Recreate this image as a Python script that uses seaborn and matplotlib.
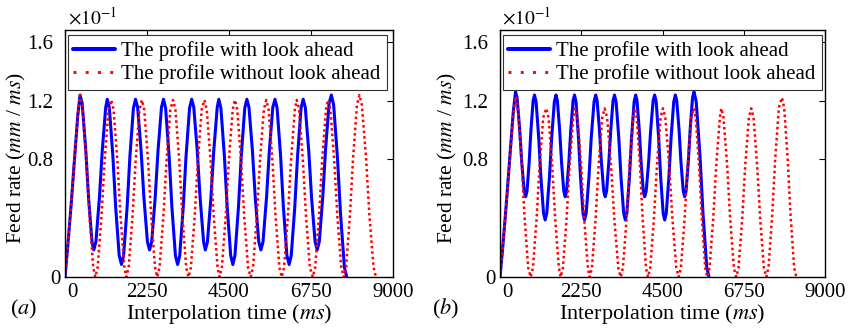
import matplotlib
matplotlib.use("Agg")
import matplotlib.pyplot as plt
import matplotlib.transforms as mtrans
from matplotlib.lines import Line2D
import pandas as pd
import seaborn as sns

# ---------------- data ----------------
x_ticks = [0, 2250, 4500, 6750, 9000]
y_ticks = [0, 0.8, 1.2, 1.6]
y_tick_labels = ["0", "0.8", "1.2", "1.6"]
series_labels = ["The profile with look ahead", "The profile without look ahead"]

# panel (a) - with look ahead
t_a_with = [0, 62, 165, 248, 351, 413,
            471, 567, 644, 740, 790, 848, 944, 1021, 1117, 1160,
            1218, 1314, 1391, 1487, 1550, 1608, 1704, 1781, 1877, 1935,
            1993, 2089, 2166, 2262, 2320, 2378, 2474, 2551, 2647, 2703,
            2761, 2857, 2934, 3030, 3090, 3148, 3244, 3321, 3417, 3476,
            3534, 3630, 3707, 3803, 3850, 3908, 4004, 4081, 4177, 4220,
            4278, 4374, 4451, 4547, 4605, 4663, 4759, 4836, 4932, 4990,
            5048, 5144, 5221, 5317, 5375, 5433, 5529, 5606, 5702, 5762,
            5820, 5916, 5993, 6089, 6150, 6208, 6304, 6381, 6477, 6535,
            6593, 6689, 6766, 6862, 6920, 6978, 7074, 7151, 7247, 7308,
            7371, 7476, 7561, 7666, 7729]
v_a_with = [0, 0.17, 0.48, 0.76, 1.10, 1.238,
            1.181, 0.874, 0.548, 0.241, 0.184, 0.239, 0.538, 0.855, 1.154, 1.209,
            1.148, 0.821, 0.473, 0.146, 0.085, 0.146, 0.473, 0.821, 1.148, 1.209,
            1.154, 0.855, 0.538, 0.239, 0.184, 0.239, 0.538, 0.855, 1.154, 1.209,
            1.148, 0.821, 0.473, 0.146, 0.085, 0.146, 0.473, 0.821, 1.148, 1.209,
            1.154, 0.855, 0.538, 0.239, 0.184, 0.239, 0.538, 0.855, 1.154, 1.209,
            1.148, 0.821, 0.473, 0.146, 0.085, 0.146, 0.473, 0.821, 1.148, 1.209,
            1.154, 0.855, 0.538, 0.239, 0.184, 0.239, 0.538, 0.855, 1.154, 1.209,
            1.148, 0.821, 0.473, 0.146, 0.085, 0.146, 0.473, 0.821, 1.148, 1.209,
            1.154, 0.855, 0.538, 0.239, 0.184, 0.241, 0.548, 0.874, 1.181, 1.238,
            1.171, 0.811, 0.427, 0.067, 0]

# panel (a) - without look ahead
t_a_without = [0, 62, 165, 248, 351, 413,
               477, 583, 668, 774, 832, 896, 1002, 1087, 1193, 1268,
               1332, 1438, 1523, 1629, 1683, 1747, 1853, 1938, 2044, 2110,
               2174, 2280, 2365, 2471, 2530, 2594, 2700, 2785, 2891, 2965,
               3029, 3135, 3220, 3326, 3390, 3454, 3560, 3645, 3751, 3825,
               3889, 3995, 4080, 4186, 4240, 4304, 4410, 4495, 4601, 4662,
               4726, 4832, 4917, 5023, 5095, 5159, 5265, 5350, 5456, 5522,
               5586, 5692, 5777, 5883, 5946, 6010, 6116, 6201, 6307, 6358,
               6422, 6528, 6613, 6719, 6800, 6864, 6970, 7055, 7161, 7218,
               7282, 7388, 7473, 7579, 7650, 7714, 7820, 7905, 8011, 8078,
               8145, 8260, 8351, 8465, 8533]
v_a_without = [0, 0.17, 0.48, 0.76, 1.10, 1.238,
               1.171, 0.811, 0.427, 0.067, 0, 0.065, 0.415, 0.789, 1.139, 1.204,
               1.139, 0.789, 0.415, 0.065, 0, 0.065, 0.415, 0.789, 1.139, 1.204,
               1.139, 0.789, 0.415, 0.065, 0, 0.065, 0.415, 0.789, 1.139, 1.204,
               1.139, 0.789, 0.415, 0.065, 0, 0.065, 0.415, 0.789, 1.139, 1.204,
               1.139, 0.789, 0.415, 0.065, 0, 0.065, 0.415, 0.789, 1.139, 1.204,
               1.139, 0.789, 0.415, 0.065, 0, 0.065, 0.415, 0.789, 1.139, 1.204,
               1.139, 0.789, 0.415, 0.065, 0, 0.065, 0.415, 0.789, 1.139, 1.204,
               1.139, 0.789, 0.415, 0.065, 0, 0.065, 0.415, 0.789, 1.139, 1.204,
               1.139, 0.789, 0.415, 0.065, 0, 0.067, 0.427, 0.811, 1.171, 1.238,
               1.171, 0.811, 0.427, 0.067, 0]

# panel (b) - with look ahead
t_b_with = [0, 65, 172, 258, 366, 430,
            472, 542, 599, 669, 711, 748, 809, 857, 918, 955,
            999, 1073, 1132, 1206, 1250, 1295, 1370, 1430, 1505, 1550,
            1588, 1652, 1703, 1767, 1805, 1844, 1908, 1960, 2024, 2063,
            2105, 2174, 2229, 2298, 2340, 2387, 2464, 2526, 2604, 2650,
            2689, 2755, 2807, 2873, 2912, 2951, 3015, 3067, 3131, 3170,
            3215, 3290, 3350, 3425, 3470, 3513, 3585, 3642, 3714, 3757,
            3794, 3857, 3906, 3969, 4006, 4048, 4117, 4172, 4241, 4283,
            4325, 4394, 4449, 4518, 4560, 4604, 4678, 4737, 4811, 4855,
            4894, 4959, 5010, 5075, 5114, 5153, 5217, 5269, 5333, 5372,
            5434, 5538, 5621, 5725, 5787]
v_b_with = [0, 0.17, 0.49, 0.77, 1.12, 1.26,
            1.221, 1.014, 0.792, 0.585, 0.546, 0.583, 0.785, 0.999, 1.201, 1.238,
            1.192, 0.945, 0.681, 0.434, 0.388, 0.434, 0.681, 0.945, 1.192, 1.238,
            1.201, 0.999, 0.785, 0.583, 0.546, 0.583, 0.785, 0.999, 1.201, 1.238,
            1.192, 0.945, 0.681, 0.434, 0.388, 0.434, 0.681, 0.945, 1.192, 1.238,
            1.201, 0.999, 0.785, 0.583, 0.546, 0.583, 0.785, 0.999, 1.201, 1.238,
            1.192, 0.945, 0.681, 0.434, 0.388, 0.434, 0.681, 0.945, 1.192, 1.238,
            1.201, 0.999, 0.785, 0.583, 0.546, 0.583, 0.785, 0.999, 1.201, 1.238,
            1.192, 0.945, 0.681, 0.434, 0.388, 0.434, 0.681, 0.945, 1.192, 1.238,
            1.201, 0.999, 0.785, 0.583, 0.546, 0.585, 0.792, 1.014, 1.221, 1.26,
            1.192, 0.825, 0.435, 0.068, 0]

# panel (b) - without look ahead
t_b_without = [0, 65, 172, 258, 366, 430,
               492, 594, 676, 779, 849, 911, 1013, 1095, 1198, 1282,
               1344, 1446, 1528, 1631, 1680, 1742, 1844, 1926, 2029, 2085,
               2147, 2249, 2331, 2434, 2483, 2545, 2647, 2729, 2832, 2899,
               2965, 3076, 3165, 3276, 3342, 3404, 3506, 3588, 3691, 3730,
               3785, 3877, 3951, 4043, 4098, 4160, 4262, 4344, 4447, 4513,
               4578, 4687, 4774, 4883, 4948, 5010, 5112, 5194, 5297, 5363,
               5420, 5514, 5589, 5683, 5740, 5802, 5904, 5986, 6089, 6128,
               6190, 6292, 6374, 6477, 6543, 6605, 6707, 6789, 6892, 6959,
               7021, 7123, 7205, 7308, 7374, 7436, 7538, 7620, 7723, 7809,
               7868, 7967, 8046, 8145, 8204]
v_b_without = [0, 0.17, 0.48, 0.76, 1.10, 1.227,
               1.161, 0.804, 0.423, 0.066, 0, 0.062, 0.396, 0.751, 1.085, 1.147,
               1.085, 0.751, 0.396, 0.062, 0, 0.062, 0.396, 0.751, 1.085, 1.147,
               1.085, 0.751, 0.396, 0.062, 0, 0.062, 0.396, 0.751, 1.085, 1.147,
               1.085, 0.751, 0.396, 0.062, 0, 0.062, 0.396, 0.751, 1.085, 1.147,
               1.085, 0.751, 0.396, 0.062, 0, 0.062, 0.396, 0.751, 1.085, 1.147,
               1.085, 0.751, 0.396, 0.062, 0, 0.062, 0.396, 0.751, 1.085, 1.147,
               1.085, 0.751, 0.396, 0.062, 0, 0.062, 0.396, 0.751, 1.085, 1.147,
               1.085, 0.751, 0.396, 0.062, 0, 0.062, 0.396, 0.751, 1.085, 1.147,
               1.085, 0.751, 0.396, 0.062, 0, 0.066, 0.421, 0.799, 1.154, 1.22,
               1.154, 0.799, 0.421, 0.066, 0]

# ---------------- style ----------------
sns.set_theme(style="white")
plt.rcParams.update({
    "font.family": ["Liberation Serif", "DejaVu Serif"],
    "mathtext.fontset": "stix",
    "font.size": 15,
    "axes.edgecolor": "black",
    "axes.linewidth": 1.0,
    "xtick.color": "black",
    "ytick.color": "black",
    "text.color": "black",
    "axes.labelcolor": "black",
})

W, H = 858, 328
fig = plt.figure(figsize=(W / 100, H / 100), dpi=100)
ax_a = fig.add_axes([65 / W, 51 / H, 328 / W, 247 / H])
ax_b = fig.add_axes([500 / W, 51 / H, 325 / W, 247 / H])

BLUE = "#0000ff"
RED = "#ff0000"

panels = [
    (ax_a, t_a_with, v_a_with, t_a_without, v_a_without, -0.112, 68),
    (ax_b, t_b_with, v_b_with, t_b_without, v_b_without, -0.126, 502),
]

for ax, tw, vw, to, vo, ylab_x, x10_px in panels:
    dfw = pd.DataFrame({"t": tw, "v": vw})
    dfo = pd.DataFrame({"t": to, "v": vo})
    sns.lineplot(data=dfw, x="t", y="v", ax=ax, color=BLUE, lw=2.2,
                 sort=False, estimator=None, solid_joinstyle="round")
    sns.lineplot(data=dfo, x="t", y="v", ax=ax, color=RED, lw=1.8,
                 sort=False, estimator=None)
    ax.lines[-1].set_linestyle((0, (1, 1.2)))
    ax.lines[-1].set_dash_capstyle("butt")

    ax.set_xlim(0, 9000)
    ax.set_ylim(0, 1.68)
    ax.set_xticks(x_ticks)
    ax.set_xticklabels([str(x) for x in x_ticks])
    ax.set_yticks(y_ticks)
    ax.set_yticklabels(y_tick_labels)
    ax.tick_params(axis="both", direction="in", top=True, right=True,
                   length=4, width=0.8, labelsize=15)
    ax.tick_params(axis="x", pad=4)
    ax.tick_params(axis="y", pad=8.5)
    for s in ax.spines.values():
        s.set_visible(True)
        s.set_color("black")
        s.set_linewidth(1.0)

    ax.set_xlabel("Interpolation time ($ms$)", fontsize=16, labelpad=0)
    ax.set_ylabel("Feed rate ($mm$ / $ms$)", fontsize=15.5)
    ax.yaxis.set_label_coords(ylab_x, 0.48)

    # the "0" tick labels sit slightly to the right in the reference
    off = mtrans.ScaledTranslation(7 / 100, 0, fig.dpi_scale_trans)
    xt0 = ax.xaxis.get_major_ticks()[0].label1
    xt0.set_transform(xt0.get_transform() + off)
    yt0 = ax.yaxis.get_major_ticks()[0].label1
    yt0.set_transform(yt0.get_transform() + off)

    handles = [
        Line2D([], [], color=BLUE, lw=2.9),
        Line2D([], [], color=RED, lw=2.1, linestyle=(0, (1, 3.2)), dash_capstyle="butt"),
    ]
    leg = ax.legend(handles, series_labels, loc="upper left",
                    bbox_to_anchor=(0.008, 0.978), fontsize=15, frameon=True,
                    fancybox=False, framealpha=1, edgecolor="#333333",
                    handlelength=2.0, handletextpad=0.3, labelspacing=0.15,
                    borderpad=0.28, borderaxespad=0.0)
    leg.get_frame().set_linewidth(0.8)

    fig.text(x10_px / W, 1 - 24 / H, r"$\times10^{-1}$", fontsize=14,
             ha="left", va="baseline")

fig.text(24 / W, 1 - 309 / H, r"($a$)", fontsize=16, ha="center", va="center")
fig.text(446 / W, 1 - 309 / H, r"($b$)", fontsize=16, ha="center", va="center")

fig.savefig("out.png", dpi=100)
